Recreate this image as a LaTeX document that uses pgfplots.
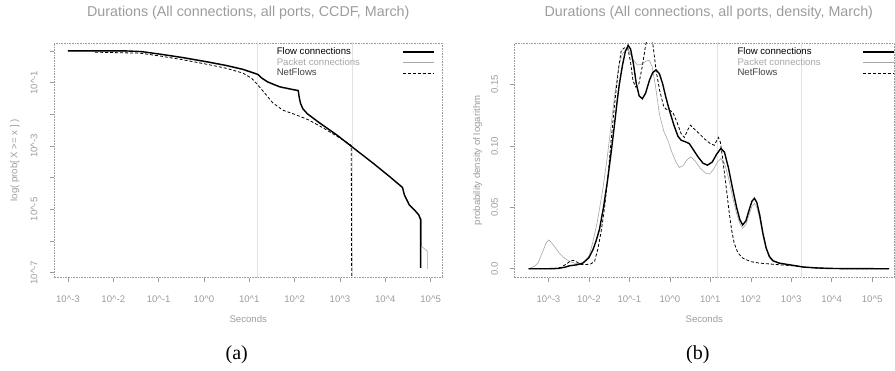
\documentclass[border=0pt]{standalone}
\usepackage{fontspec}
\setmainfont{Liberation Sans}
\newfontfamily\seriffont{Liberation Serif}
\usepackage{pgfplots}
\pgfplotsset{compat=1.18}
\definecolor{txtgray}{HTML}{9C9C9C}
\definecolor{boxgray}{HTML}{9A9A9A}
\definecolor{vline}{HTML}{E2E2E2}
\definecolor{pktgray}{HTML}{A6A6A6}
\definecolor{nfgray}{HTML}{404040}
\newcommand{\pw}[1]{10\textasciicircum#1}
\pgfplotsset{
  every axis title shift=0pt,
  rstyle/.style={
    scale only axis, height=235pt, anchor=south west,
    axis line style={boxgray, densely dotted, line width=0.6pt},
    tick align=outside, major tick length=4pt,
    tick style={boxgray, line width=0.5pt, solid},
    xtick pos=lower, ytick pos=left,
    ticklabel style={font=\fontsize{9.6}{11}\selectfont, text=txtgray},
    label style={font=\fontsize{9.6}{11}\selectfont, text=txtgray},
    title style={font=\fontsize{14.3}{16}\selectfont, text=txtgray, anchor=center, inner sep=0pt},
    xtick={-3,-2,-1,0,1,2,3,4,5},
    xticklabels={\pw{-3},\pw{-2},\pw{-1},\pw{0},\pw{1},\pw{2},\pw{3},\pw{4},\pw{5}},
    xticklabel style={anchor=center, yshift=-18pt},
    yticklabel style={xshift=-16pt, rotate=90, anchor=center},
    xlabel={Seconds},
    xlabel style={at={(axis description cs:0.5,0)}, anchor=center, yshift=-41pt},
    legend plot pos=right,
    legend image code/.code={\draw[##1] (0pt,0pt) -- (31pt,0pt);},
    legend style={draw=none, fill=none, anchor=north west,
      font=\fontsize{9.6}{11}\selectfont, cells={anchor=west}, row sep=1.8pt, column sep=42pt,
      inner sep=0pt, nodes={inner sep=0pt, text height=7pt, text depth=2pt}},
    clip=true,
  },
  flowl/.style={black, line width=1.4pt},
  pktl/.style={pktgray, line width=0.6pt},
  nfl/.style={black, line width=0.8pt, dash pattern=on 3pt off 2pt},
}
\begin{document}
\begin{tikzpicture}
\path (0,0) rectangle (895pt,371pt);
% ---------------- (a) CCDF ----------------
\begin{axis}[rstyle, at={(54pt,93pt)}, width=389pt,
  xmin=-3.309, xmax=5.264, ymin=-7.158, ymax=0.252,
  ytick={-7,-6,-5,-4,-3,-2,-1,0},
  yticklabels={\pw{-7},,\pw{-5},,\pw{-3},,\pw{-1},},
  title={Durations (All connections, all ports, CCDF, March)},
  title style={at={(axis description cs:0.5,1)}, yshift=30.5pt},
  ylabel={log( prob[ X >= x ] )},
  ylabel style={at={(axis description cs:-0.1003,0.5)}, anchor=center},
  legend style={at={(axis description cs:0.573,0.982)}},
]
\addlegendimage{flowl}\addlegendentry{\textcolor{black}{Flow connections}}
\addlegendimage{pktl}\addlegendentry{\textcolor{pktgray}{Packet connections}}
\addlegendimage{nfl}\addlegendentry{\textcolor{nfgray}{NetFlows}}
\addplot[vline, line width=0.8pt, forget plot] coordinates {(1.17,-8) (1.17,1)};
\addplot[vline, line width=0.8pt, forget plot] coordinates {(3.27,-8) (3.27,1)};
\addplot[pktl, forget plot] table {
-3 0
-1.71 -0.01
-1.38 -0.03
-0.97 -0.11
-0.46 -0.23
0.06 -0.36
0.50 -0.48
0.86 -0.60
1.19 -0.76
1.28 -0.88
1.41 -1.00
1.67 -1.15
1.90 -1.22
2.08 -1.27
2.10 -1.47
2.13 -1.67
2.18 -1.84
2.28 -2.00
2.55 -2.29
2.93 -2.66
3.26 -3.03
3.72 -3.53
4.09 -3.95
4.38 -4.29
4.42 -4.52
4.53 -4.84
4.65 -5.01
4.74 -5.16
4.80 -5.31
4.80 -6.17
4.87 -6.25
4.93 -6.33
4.93 -6.88
};
\addplot[flowl, forget plot] table {
-3 0
-1.71 0
-1.38 -0.02
-0.97 -0.10
-0.46 -0.21
0.06 -0.34
0.50 -0.46
0.86 -0.58
1.19 -0.74
1.28 -0.86
1.41 -0.98
1.67 -1.13
1.90 -1.20
2.08 -1.25
2.10 -1.45
2.13 -1.65
2.18 -1.82
2.28 -1.98
2.55 -2.27
2.93 -2.65
3.26 -3.02
3.72 -3.53
4.09 -3.96
4.38 -4.31
4.42 -4.54
4.53 -4.86
4.65 -5.03
4.74 -5.18
4.78 -5.33
4.78 -6.85
};
\addplot[nfl, forget plot] table {
-2.40 -0.04
-1.41 -0.07
-0.97 -0.16
-0.46 -0.28
0.06 -0.42
0.50 -0.55
0.86 -0.70
1.05 -0.86
1.17 -1.04
1.34 -1.33
1.52 -1.64
1.74 -1.87
2.00 -2.00
2.30 -2.17
2.63 -2.43
2.99 -2.74
3.25 -2.98
3.26 -7.5
};
\end{axis}
% ---------------- (b) density ----------------
\begin{axis}[rstyle, at={(515pt,93pt)}, width=380pt,
  xmin=-3.84, xmax=5.543, ymin=-0.0073, ymax=0.184,
  ytick={0,0.05,0.1,0.15},
  yticklabels={0.0,0.05,0.10,0.15},
  title={Durations (All connections, all ports, density, March)},
  title style={at={(axis description cs:0.5,1)}, yshift=30.5pt, xshift=4.5pt},
  ylabel={probability density of logarithm},
  ylabel style={at={(axis description cs:-0.097,0.5)}, anchor=center},
  legend style={at={(axis description cs:0.587,0.982)}},
]
\addlegendimage{flowl}\addlegendentry{\textcolor{black}{Flow connections}}
\addlegendimage{pktl}\addlegendentry{\textcolor{pktgray}{Packet connections}}
\addlegendimage{nfl}\addlegendentry{\textcolor{nfgray}{NetFlows}}
\addplot[vline, line width=0.8pt, forget plot] coordinates {(1.17,-1) (1.17,1)};
\addplot[vline, line width=0.8pt, forget plot] coordinates {(3.25,-1) (3.25,1)};
\addplot[pktl, forget plot] table {
-3.49 0
-3.35 0.002
-3.26 0.0046
-3.14 0.014
-3.06 0.021
-2.99 0.0235
-2.92 0.021
-2.85 0.018
-2.73 0.0127
-2.6 0.0085
-2.48 0.006
-2.35 0.0045
-2.23 0.0038
-2.1 0.006
-1.99 0.011
-1.91 0.0209
-1.8 0.037
-1.66 0.064
-1.55 0.090
-1.45 0.118
-1.35 0.145
-1.25 0.167
-1.17 0.175
-1.08 0.179
-1.0 0.177
-0.9 0.170
-0.8 0.166
-0.7 0.1665
-0.6 0.169
-0.51 0.170
-0.44 0.165
-0.36 0.150
-0.26 0.1264
-0.15 0.112
-0.05 0.1047
0.05 0.095
0.15 0.087
0.235 0.0825
0.33 0.084
0.43 0.089
0.52 0.0912
0.62 0.088
0.75 0.082
0.88 0.078
0.98 0.0771
1.08 0.081
1.18 0.087
1.26 0.0898
1.35 0.086
1.45 0.074
1.55 0.0587
1.65 0.045
1.73 0.037
1.80 0.033
1.88 0.036
1.96 0.044
2.03 0.051
2.09 0.0533
2.15 0.050
2.22 0.041
2.30 0.027
2.38 0.016
2.46 0.009
2.55 0.006
2.7 0.0044
2.9 0.0034
3.1 0.0024
3.3 0.0014
3.6 0.0007
3.9 0.0003
4.3 0.0001
5.42 0
};
\addplot[flowl, forget plot] table {
-3.49 0
-3.0 0
-2.77 0.0002
-2.6 0.0012
-2.48 0.0024
-2.3 0.0032
-2.15 0.0046
-2.0 0.009
-1.9 0.0155
-1.82 0.023
-1.74 0.032
-1.64 0.050
-1.54 0.072
-1.45 0.095
-1.37 0.117
-1.30 0.137
-1.25 0.150
-1.17 0.166
-1.10 0.177
-1.03 0.182
-0.97 0.179
-0.90 0.167
-0.83 0.151
-0.76 0.141
-0.68 0.1385
-0.60 0.143
-0.50 0.154
-0.42 0.160
-0.34 0.162
-0.26 0.159
-0.18 0.151
-0.10 0.140
-0.01 0.129
0.1 0.117
0.2 0.108
0.28 0.1047
0.38 0.1035
0.48 0.102
0.58 0.097
0.7 0.091
0.82 0.086
0.93 0.0844
1.05 0.087
1.15 0.093
1.26 0.098
1.35 0.095
1.45 0.082
1.55 0.0655
1.65 0.050
1.73 0.040
1.80 0.0357
1.88 0.039
1.96 0.048
2.03 0.055
2.09 0.0574
2.15 0.054
2.22 0.044
2.30 0.029
2.38 0.017
2.46 0.010
2.55 0.0065
2.7 0.0046
2.9 0.0035
3.1 0.0025
3.3 0.0014
3.6 0.0007
3.9 0.0003
4.3 0.0001
5.42 0
};
\addplot[nfl, forget plot] table {
-3.49 0
-2.9 0
-2.7 0.001
-2.55 0.004
-2.45 0.0065
-2.38 0.0068
-2.3 0.0055
-2.2 0.0035
-2.05 0.0035
-1.95 0.004
-1.86 0.006
-1.78 0.016
-1.70 0.030
-1.62 0.048
-1.53 0.075
-1.45 0.105
-1.39 0.126
-1.33 0.145
-1.26 0.165
-1.20 0.178
-1.12 0.180
-1.04 0.180
-0.97 0.168
-0.91 0.153
-0.84 0.148
-0.77 0.150
-0.68 0.165
-0.60 0.182
-0.52 0.192
-0.45 0.190
-0.40 0.178
-0.34 0.1615
-0.25 0.145
-0.15 0.132
-0.09 0.130
0.0 0.129
0.07 0.1277
0.17 0.120
0.28 0.110
0.36 0.107
0.44 0.113
0.51 0.117
0.60 0.114
0.73 0.110
0.85 0.106
1.0 0.102
1.1 0.1006
1.2 0.107
1.25 0.103
1.3 0.091
1.38 0.070
1.47 0.045
1.53 0.031
1.59 0.021
1.68 0.013
1.80 0.0087
2.0 0.0058
2.21 0.0046
2.5 0.0038
2.8 0.003
3.0 0.0025
3.3 0.0014
3.6 0.0007
4.0 0.0002
4.5 0
5.42 0
};
\end{axis}
\node[inner sep=0pt, font=\seriffont\fontsize{20}{22}\selectfont] at (237pt,16pt) {(a)};
\node[inner sep=0pt, font=\seriffont\fontsize{20}{22}\selectfont] at (698.5pt,16pt) {(b)};
\end{tikzpicture}
\end{document}
